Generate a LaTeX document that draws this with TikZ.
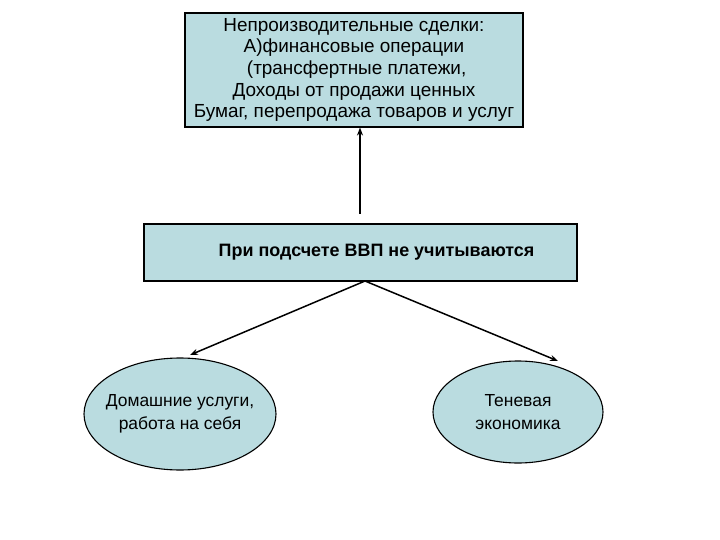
\documentclass[tikz,border=0pt]{standalone}
\usepackage{fontspec}
\setmainfont{Liberation Sans}
\usetikzlibrary{arrows.meta,shapes.geometric}
\definecolor{vvpfill}{HTML}{BADCE0}

\begin{document}
\begin{tikzpicture}[x=1bp,y=-1bp,
  box/.style={draw,fill=vvpfill,line width=1.1bp,inner sep=0pt,align=center},
  oval/.style={ellipse,draw,fill=vvpfill,line width=1.1bp,inner sep=0pt,align=center},
  link/.style={line width=1.5bp,-{Stealth[length=8bp,width=6bp]}},
  every node/.style={font=\fontsize{17.5}{23}\selectfont}]
  \useasboundingbox (0,0) rectangle (720,540);
  \node[box,minimum width=338bp,minimum height=114bp,font=\fontsize{19}{21.8}\selectfont] (deals) at (354,70)
    {Непроизводительные сделки:\\
     А)финансовые операции\\
     \ (трансфертные платежи,\\
     Доходы от продажи ценных\\
     Бумаг, перепродажа товаров и услуг};
  \node[box,minimum width=433bp,minimum height=57bp,font=\fontsize{18}{22}\selectfont\bfseries] (gdp) at (360.5,252.5)
    {\hspace*{32bp}При подсчете ВВП не учитываются};
  \node[oval,minimum width=192bp,minimum height=112bp,inner xsep=-8bp] (home) at (180,414)
    {Домашние услуги,\\ работа на себя};
  \node[oval,minimum width=170bp,minimum height=102bp] (shadow) at (518,412)
    {Теневая\\ экономика};
  \coordinate (up) at (360,214);
  \coordinate (apex) at (365,281);
  \coordinate (homein) at (190,355);
  \coordinate (shadowin) at (558,361);
  \draw[link] (up) -- (up |- deals.south);
  \draw[link] (apex) -- (homein);
  \draw[link] (apex) -- (shadowin);
\end{tikzpicture}
\end{document}
